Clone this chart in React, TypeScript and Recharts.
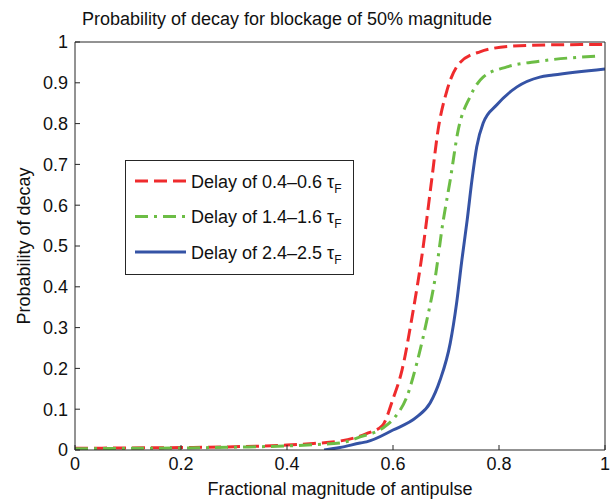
import React from 'react';
import { LineChart, Line, XAxis, YAxis, Legend } from 'recharts';

const seriesNames = ['Delay of 0.4\u20130.6 \u03c4', 'Delay of 1.4\u20131.6 \u03c4', 'Delay of 2.4\u20132.5 \u03c4'];
const seriesSub = 'F';

const redX = [0, 0.1, 0.2, 0.3, 0.4, 0.45, 0.5, 0.55, 0.58, 0.6, 0.617, 0.636, 0.655, 0.673, 0.685, 0.702, 0.726, 0.764, 0.826, 0.9, 1.0];
const redY = [0.004, 0.005, 0.006, 0.008, 0.012, 0.016, 0.022, 0.04, 0.06, 0.125, 0.196, 0.326, 0.48, 0.662, 0.784, 0.882, 0.949, 0.976, 0.99, 0.993, 0.994];

const greenX = [0, 0.1, 0.2, 0.3, 0.4, 0.45, 0.5, 0.538, 0.581, 0.604, 0.626, 0.645, 0.664, 0.679, 0.694, 0.708, 0.723, 0.745, 0.77, 0.815, 0.877, 0.99];
const greenY = [0.003, 0.004, 0.005, 0.007, 0.01, 0.013, 0.017, 0.032, 0.054, 0.081, 0.13, 0.213, 0.319, 0.417, 0.556, 0.662, 0.784, 0.865, 0.914, 0.939, 0.953, 0.966];

const blueX = [0.47, 0.5, 0.538, 0.55, 0.6, 0.645, 0.67, 0.689, 0.708, 0.72, 0.73, 0.74, 0.749, 0.758, 0.77, 0.796, 0.834, 0.877, 0.902, 1.0];
const blueY = [0, 0.006, 0.017, 0.02, 0.049, 0.081, 0.115, 0.172, 0.262, 0.36, 0.466, 0.564, 0.662, 0.743, 0.801, 0.846, 0.89, 0.914, 0.919, 0.934];

const xTicks = [0, 0.2, 0.4, 0.6, 0.8, 1];
const yTicks = [0, 0.1, 0.2, 0.3, 0.4, 0.5, 0.6, 0.7, 0.8, 0.9, 1];

const titleText = 'Probability of decay for blockage of 50% magnitude';
const xLabelText = 'Fractional magnitude of antipulse';
const yLabelText = 'Probability of decay';

const toPoints = (xs: number[], ys: number[]) => xs.map((x, i) => ({ x, y: ys[i] }));
const redData = toPoints(redX, redY);
const greenData = toPoints(greenX, greenY);
const blueData = toPoints(blueX, blueY);

const RED = '#ef2b2d';
const GREEN = '#6cbd45';
const BLUE = '#3553a5';
const FONT = '"Liberation Sans", Arial, Helvetica, sans-serif';
const AXIS = '#262626';

const styles = [
  { color: RED, dash: '13 6' },
  { color: GREEN, dash: '13 6 3 6' },
  { color: BLUE, dash: undefined as string | undefined },
];

const fmt = (v: number) => (v === 0 ? '0' : v === 1 ? '1' : String(v));

const LegendBox = () => (
  <svg width={229} height={115} style={{ display: 'block' }}>
    <rect x={0.5} y={0.5} width={228} height={114} fill="#fff" stroke={AXIS} strokeWidth={1} />
    {seriesNames.map((name, i) => {
      const cy = 21 + i * 35.5;
      return (
        <g key={name}>
          <line x1={10} x2={61} y1={cy} y2={cy} stroke={styles[i].color} strokeWidth={3} strokeDasharray={styles[i].dash} />
          <text x={66} y={cy + 6.5} fontFamily={FONT} fontSize={18} fill="#111">
            {name}
            <tspan fontSize={12} dy={5}>{seriesSub}</tspan>
          </text>
        </g>
      );
    })}
  </svg>
);

export default function App() {
  return (
    <div style={{ position: 'absolute', left: 0, top: 0, width: 614, height: 500, background: '#fff' }}>
      <LineChart width={614} height={500} margin={{ top: 41, right: 8, bottom: 0, left: 0 }}>
        <XAxis
          xAxisId="b"
          dataKey="x"
          type="number"
          domain={[0, 1]}
          ticks={xTicks}
          tickFormatter={fmt}
          height={50}
          tickSize={-5}
          tickMargin={12}
          stroke={AXIS}
          tick={{ fill: '#111', fontSize: 18, fontFamily: FONT }}
          allowDataOverflow
          label={{
            content: () => (
              <text x={340} y={495} textAnchor="middle" fontFamily={FONT} fontSize={18} fill="#111">
                {xLabelText}
              </text>
            ),
          }}
        />
        <XAxis
          xAxisId="t"
          orientation="top"
          dataKey="x"
          type="number"
          domain={[0, 1]}
          ticks={xTicks}
          height={1}
          tickSize={-5}
          tick={false}
          stroke={AXIS}
          allowDataOverflow
          label={{
            content: () => (
              <text x={287} y={25} textAnchor="middle" fontFamily={FONT} fontSize={18} fill="#111">
                {titleText}
              </text>
            ),
          }}
        />
        <YAxis
          yAxisId="l"
          type="number"
          domain={[0, 1]}
          ticks={yTicks}
          tickFormatter={fmt}
          width={75}
          tickSize={-5}
          tickMargin={12}
          stroke={AXIS}
          tick={{ fill: '#111', fontSize: 18, fontFamily: FONT }}
          allowDataOverflow
          label={{
            content: () => (
              <text
                x={24}
                y={246}
                transform="rotate(-90 24 246)"
                textAnchor="middle"
                dominantBaseline="central"
                fontFamily={FONT}
                fontSize={18}
                fill="#111"
              >
                {yLabelText}
              </text>
            ),
          }}
        />
        <YAxis
          yAxisId="r"
          orientation="right"
          type="number"
          domain={[0, 1]}
          ticks={yTicks}
          width={1}
          tickSize={-5}
          tick={false}
          stroke={AXIS}
          allowDataOverflow
        />
        <Legend
          layout="vertical"
          verticalAlign="middle"
          align="center"
          content={() => <LegendBox />}
          wrapperStyle={{ position: 'absolute', left: 125, top: 160, width: 229, height: 115 }}
        />
        <Line xAxisId="b" yAxisId="l" data={redData} dataKey="y" type="monotone" stroke={RED} strokeWidth={3} strokeDasharray="13 6" dot={false} isAnimationActive={false} />
        <Line xAxisId="b" yAxisId="l" data={greenData} dataKey="y" type="monotone" stroke={GREEN} strokeWidth={3} strokeDasharray="13 6 3 6" dot={false} isAnimationActive={false} />
        <Line xAxisId="b" yAxisId="l" data={blueData} dataKey="y" type="monotone" stroke={BLUE} strokeWidth={3} dot={false} isAnimationActive={false} />
      </LineChart>
    </div>
  );
}
